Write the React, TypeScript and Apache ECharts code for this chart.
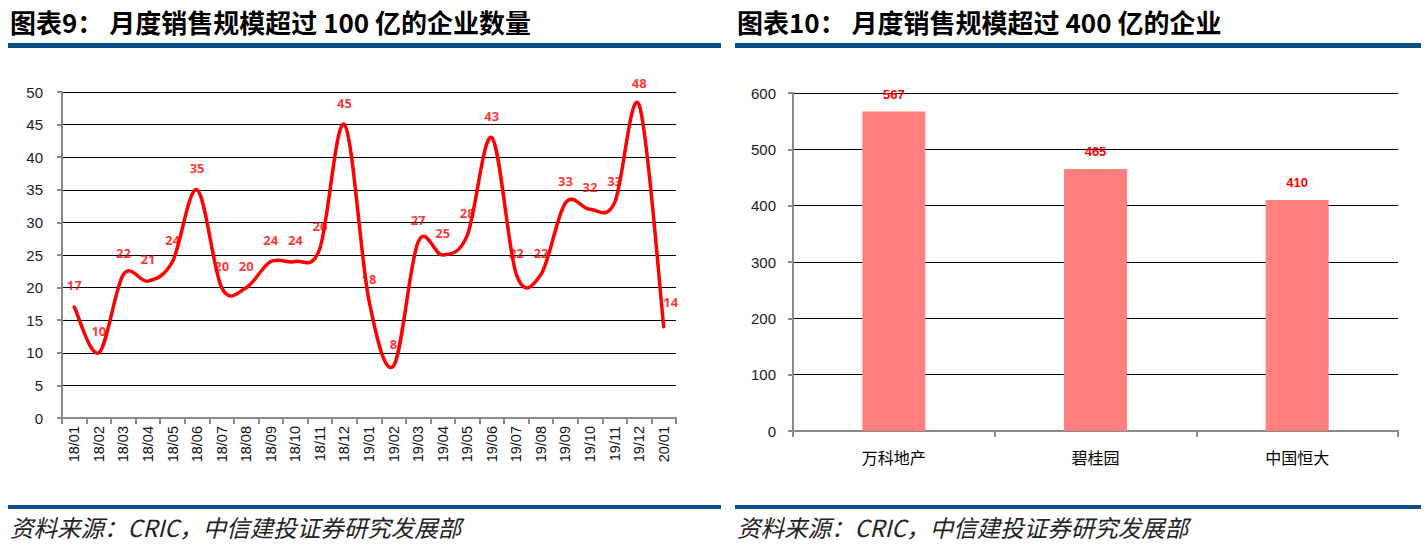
import React, { useEffect, useRef } from "react";
import * as echarts from "echarts";

const monthCats = ["18/01","18/02","18/03","18/04","18/05","18/06","18/07","18/08","18/09","18/10","18/11","18/12","19/01","19/02","19/03","19/04","19/05","19/06","19/07","19/08","19/09","19/10","19/11","19/12","20/01"];
const monthVals = [17,10,22,21,24,35,20,20,24,24,26,45,18,8,27,25,28,43,22,22,33,32,33,48,14];
const companyCats = ["万科地产","碧桂园","中国恒大"];
const companyVals = [567,465,410];

const leftTitle = "图表9： 月度销售规模超过 100 亿的企业数量";
const rightTitle = "图表10： 月度销售规模超过 400 亿的企业";
const sourceText = "资料来源：CRIC，中信建投证券研究发展部";

const BLUE = "#0B4F88";
const AXIS = "#8a8a8a";
const LATIN = "Arial, 'Liberation Sans', sans-serif";

export default function App() {
  const ref = useRef<HTMLDivElement>(null);
  useEffect(() => {
    document.body.style.margin = "0";
    const chart = echarts.init(ref.current!, null, { renderer: "svg" });
    const titleStyle = {
      fontFamily: "'Noto Sans CJK SC', sans-serif",
      fontWeight: "bold",
      fontSize: 26,
      fill: "#000",
    };
    const srcStyle = {
      fontFamily: "'Noto Sans CJK SC', serif",
      fontStyle: "italic",
      fontSize: 23.5,
      fill: "#222",
    };
    const lineLabelData = monthVals.map((v, i) =>
      i === monthVals.length - 1
        ? { value: [i, v], label: { position: [0, -31] } }
        : { value: [i, v] }
    );
    const curveData = monthVals.map((v, i) => [i, v]);
    chart.setOption({
      animation: false,
      backgroundColor: "#fff",
      graphic: [
        { type: "text", left: 10, top: 8, style: { text: leftTitle, ...titleStyle } },
        { type: "text", left: 737, top: 8, style: { text: rightTitle, ...titleStyle } },
        { type: "rect", shape: { x: 8, y: 43, width: 713, height: 5 }, style: { fill: BLUE } },
        { type: "rect", shape: { x: 735, y: 43, width: 686, height: 5 }, style: { fill: BLUE } },
        { type: "rect", shape: { x: 8, y: 505, width: 713, height: 4 }, style: { fill: BLUE } },
        { type: "rect", shape: { x: 735, y: 505, width: 686, height: 4 }, style: { fill: BLUE } },
        { type: "text", left: 10, top: 515, style: { text: sourceText, ...srcStyle } },
        { type: "text", left: 737, top: 515, style: { text: sourceText, ...srcStyle } },
      ],
      grid: [
        { left: 62, top: 92, width: 614, height: 326 },
        { left: 793, top: 93, width: 605, height: 338 },
      ],
      xAxis: [
        {
          type: "category",
          gridIndex: 0,
          data: monthCats,
          boundaryGap: true,
          axisLine: { lineStyle: { color: AXIS, width: 2 } },
          axisTick: { show: true, length: 6, lineStyle: { color: AXIS, width: 2 } },
          axisLabel: { rotate: 90, interval: 0, margin: 8, fontSize: 14.5, color: "#111", fontFamily: LATIN },
        },
        {
          type: "category",
          gridIndex: 1,
          data: companyCats,
          axisLine: { lineStyle: { color: AXIS, width: 2 } },
          axisTick: { show: true, length: 6, lineStyle: { color: AXIS, width: 2 } },
          axisLabel: { margin: 18, fontSize: 16, color: "#000", fontFamily: "'Noto Sans CJK SC', sans-serif" },
        },
      ],
      yAxis: [
        {
          type: "value",
          gridIndex: 0,
          min: 0,
          max: 50,
          interval: 5,
          axisLine: { show: true, lineStyle: { color: AXIS, width: 2 } },
          axisTick: { show: true, length: 5, lineStyle: { color: AXIS, width: 2 } },
          splitLine: { lineStyle: { color: "#000", width: 1 } },
          axisLabel: { margin: 19, fontSize: 15, color: "#1a1a2a", fontFamily: LATIN },
        },
        {
          type: "value",
          gridIndex: 1,
          min: 0,
          max: 600,
          interval: 100,
          axisLine: { show: true, lineStyle: { color: AXIS, width: 2 } },
          axisTick: { show: true, length: 5, lineStyle: { color: AXIS, width: 2 } },
          splitLine: { lineStyle: { color: "#000", width: 1 } },
          axisLabel: { margin: 17, fontSize: 15, color: "#1a1a2a", fontFamily: LATIN },
        },
      ],
      series: [
        {
          type: "custom",
          xAxisIndex: 0,
          yAxisIndex: 0,
          data: curveData,
          encode: { x: 0, y: 1 },
          clip: false,
          z: 2,
          renderItem: (params: any, api: any) => {
            if (params.dataIndex !== 0) return null;
            const pts = curveData.map((d) => api.coord([d[0], d[1]]));
            const n = pts.length;
            let d = `M${pts[0][0]},${pts[0][1]}`;
            for (let i = 0; i < n - 1; i++) {
              const p0 = pts[Math.max(0, i - 1)];
              const p1 = pts[i];
              const p2 = pts[i + 1];
              const p3 = pts[Math.min(n - 1, i + 2)];
              const c1x = p1[0] + (p2[0] - p0[0]) / 6;
              const c1y = p1[1] + (p2[1] - p0[1]) / 6;
              const c2x = p2[0] - (p3[0] - p1[0]) / 6;
              const c2y = p2[1] - (p3[1] - p1[1]) / 6;
              d += ` C${c1x},${c1y} ${c2x},${c2y} ${p2[0]},${p2[1]}`;
            }
            return {
              type: "path",
              shape: { pathData: d },
              style: { fill: "none", stroke: "#ff0000", lineWidth: 3.5, lineJoin: "round", lineCap: "round" },
            };
          },
        },
        {
          type: "scatter",
          xAxisIndex: 0,
          yAxisIndex: 0,
          data: lineLabelData,
          symbol: "circle",
          symbolSize: 1,
          z: 5,
          itemStyle: { color: "rgba(255,0,0,0)" },
          label: {
            show: true,
            position: "top",
            distance: 15,
            color: "#ff0000",
            fontWeight: "bold",
            fontSize: 13,
            fontFamily: "'Open Sans', Arial, sans-serif",
            formatter: (p: any) => String(p.value[1]),
          },
          labelLayout: { hideOverlap: false },
        },
        {
          type: "bar",
          xAxisIndex: 1,
          yAxisIndex: 1,
          data: companyVals,
          barWidth: 63,
          itemStyle: { color: "#ff7f7f" },
          label: {
            show: true,
            position: "top",
            distance: 11,
            color: "#ff0000",
            fontWeight: "bold",
            fontSize: 13,
            fontFamily: "'Liberation Sans Narrow', Arial, sans-serif",
          },
        },
      ],
    });
    return () => chart.dispose();
  }, []);
  return <div ref={ref} style={{ width: 1427, height: 552 }} />;
}
